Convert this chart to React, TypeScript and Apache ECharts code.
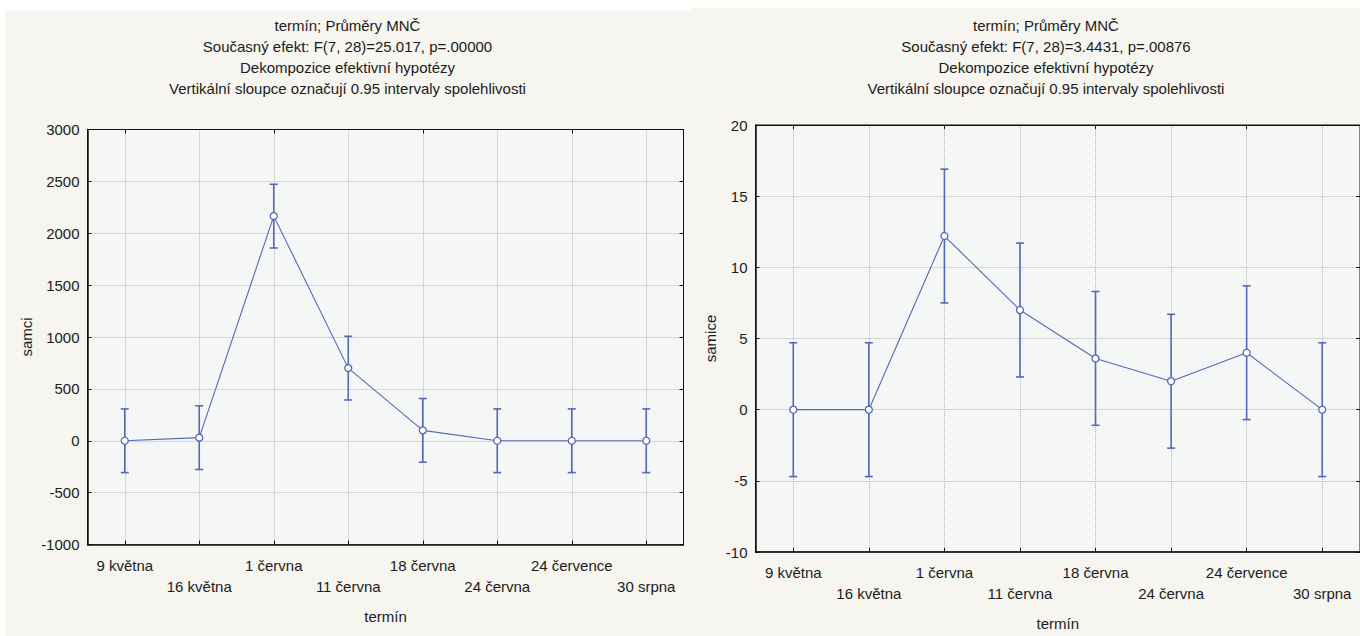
import React, { useEffect, useRef } from "react";
import * as echarts from "echarts";

const categories = [
  "9 května",
  "16 května",
  "1 června",
  "11 června",
  "18 června",
  "24 června",
  "24 července",
  "30 srpna",
];

const samciMeans = [0, 30, 2165, 700, 100, 0, 0, 0];
const samciHalfCI = [307, 307, 307, 307, 307, 307, 307, 307];
const samiceMeans = [0, 0, 12.2, 7.0, 3.6, 2.0, 4.0, 0];
const samiceHalfCI = [4.7, 4.7, 4.7, 4.7, 4.7, 4.7, 4.7, 4.7];

const samciAxis = { min: -1000, max: 3000, interval: 500 };
const samiceAxis = { min: -10, max: 20, interval: 5 };

const leftTitle = [
  "termín; Průměry MNČ",
  "Současný efekt: F(7, 28)=25.017, p=.00000",
  "Dekompozice efektivní hypotézy",
  "Vertikální sloupce označují 0.95 intervaly spolehlivosti",
];
const rightTitle = [
  "termín; Průměry MNČ",
  "Současný efekt: F(7, 28)=3.4431, p=.00876",
  "Dekompozice efektivní hypotézy",
  "Vertikální sloupce označují 0.95 intervaly spolehlivosti",
];

const FONT = "'Liberation Sans', Arial, sans-serif";
const FS = 15;
const TXT = "#1c1c1c";
const BLUE = "#5468b8";
const GRID_C = "#b4b4b4";

export default function App() {
  const ref = useRef<HTMLDivElement>(null);

  useEffect(() => {
    if (!ref.current) return;
    const chart = echarts.init(ref.current, undefined, { renderer: "svg" });

    const grids = [
      { left: 87.5, top: 129.5, width: 596, height: 415 },
      { left: 755.5, top: 125, width: 612, height: 427 },
    ];

    const xAxes: any[] = [];
    const yAxes: any[] = [];
    const yCfg = [samciAxis, samiceAxis];
    const yNames = ["samci", "samice"];
    const yNameGap = [54, 38];
    const xNameGap = [64, 64];

    grids.forEach((_, gi) => {
      xAxes.push({
        type: "category",
        gridIndex: gi,
        data: categories,
        boundaryGap: true,
        position: "bottom",
        name: "termín",
        nameLocation: "middle",
        nameGap: xNameGap[gi],
        nameTextStyle: { fontFamily: FONT, fontSize: FS, color: TXT },
        axisLine: { show: true, onZero: false, lineStyle: { color: "#111", width: 1.5 } },
        axisTick: { show: true, inside: true, length: 4, alignWithLabel: true, lineStyle: { color: "#111" } },
        axisLabel: {
          interval: 0,
          margin: 10,
          fontFamily: FONT,
          fontSize: FS,
          lineHeight: 21,
          color: TXT,
          formatter: (v: string, i: number) => (i % 2 === 1 ? "\n" + v : v),
        },
        splitLine: {
          show: true,
          alignWithLabel: true,
          lineStyle: { color: GRID_C, type: "dotted", width: 1 },
        },
      });
      xAxes.push({
        type: "category",
        gridIndex: gi,
        data: categories,
        boundaryGap: true,
        position: "top",
        axisLine: { show: true, onZero: false, lineStyle: { color: "#111", width: 1 } },
        axisTick: { show: true, inside: true, length: 4, alignWithLabel: true, lineStyle: { color: "#111" } },
        axisLabel: { show: false },
        splitLine: { show: false },
      });
      yAxes.push({
        type: "value",
        gridIndex: gi,
        position: "left",
        min: yCfg[gi].min,
        max: yCfg[gi].max,
        interval: yCfg[gi].interval,
        name: yNames[gi],
        nameLocation: "middle",
        nameGap: yNameGap[gi],
        nameRotate: 90,
        nameTextStyle: { fontFamily: FONT, fontSize: FS, color: TXT },
        axisLine: { show: true, onZero: false, lineStyle: { color: "#111", width: 1.5 } },
        axisTick: { show: true, inside: true, length: 4, lineStyle: { color: "#111" } },
        axisLabel: {
          margin: 8,
          fontFamily: FONT,
          fontSize: FS,
          color: TXT,
          formatter: (v: number) => String(v),
        },
        splitLine: { show: true, lineStyle: { color: GRID_C, type: "dotted", width: 1 } },
      });
      yAxes.push({
        type: "value",
        gridIndex: gi,
        position: "right",
        min: yCfg[gi].min,
        max: yCfg[gi].max,
        interval: yCfg[gi].interval,
        axisLine: { show: true, onZero: false, lineStyle: { color: "#111", width: 1 } },
        axisTick: { show: true, inside: true, length: 4, lineStyle: { color: "#111" } },
        axisLabel: { show: false },
        splitLine: { show: false },
      });
    });

    const errRender = (params: any, api: any) => {
      const x = api.value(0);
      const lo = api.value(1);
      const hi = api.value(2);
      const top = api.coord([x, hi]);
      const bot = api.coord([x, lo]);
      const w = 4;
      const st = { stroke: BLUE, lineWidth: 1.6 };
      return {
        type: "group",
        children: [
          { type: "line", shape: { x1: top[0], y1: top[1], x2: bot[0], y2: bot[1] }, style: st },
          { type: "line", shape: { x1: top[0] - w, y1: top[1], x2: top[0] + w, y2: top[1] }, style: st },
          { type: "line", shape: { x1: bot[0] - w, y1: bot[1], x2: bot[0] + w, y2: bot[1] }, style: st },
        ],
      };
    };

    const means = [samciMeans, samiceMeans];
    const halves = [samciHalfCI, samiceHalfCI];
    const series: any[] = [];
    [0, 1].forEach((gi) => {
      series.push({
        type: "custom",
        xAxisIndex: gi * 2,
        yAxisIndex: gi * 2,
        renderItem: errRender,
        encode: { x: 0, y: [1, 2] },
        data: means[gi].map((m, i) => [i, m - halves[gi][i], m + halves[gi][i]]),
        z: 3,
        silent: true,
      });
      series.push({
        type: "line",
        xAxisIndex: gi * 2,
        yAxisIndex: gi * 2,
        data: means[gi],
        symbol: "circle",
        symbolSize: 7,
        showAllSymbol: true,
        lineStyle: { color: BLUE, width: 1.1 },
        itemStyle: { color: "#ffffff", borderColor: BLUE, borderWidth: 1.3 },
        z: 5,
        silent: true,
      });
    });

    const titleTexts: any[] = [];
    const titleYs = [25, 46.5, 67.5, 88.5];
    const mk = (t: string, x: number, y: number) => ({
      type: "text",
      x,
      y,
      z: 100,
      style: { text: t, fill: TXT, font: `${FS}px ${FONT}`, textAlign: "center", textVerticalAlign: "middle" },
    });
    leftTitle.forEach((t, i) => titleTexts.push(mk(t, 347.5, titleYs[i])));
    rightTitle.forEach((t, i) => titleTexts.push(mk(t, 1046, titleYs[i])));

    chart.setOption({
      animation: false,
      backgroundColor: "#ffffff",
      textStyle: { fontFamily: FONT },
      grid: grids.map((g) => ({
        ...g,
        show: true,
        backgroundColor: "#f5f7f7",
        borderColor: "#111",
        borderWidth: 1,
        containLabel: false,
      })),
      xAxis: xAxes,
      yAxis: yAxes,
      series,
      graphic: [
        { type: "rect", z: -100, shape: { x: 5, y: 11, width: 687, height: 625 }, style: { fill: "#f6f5ef" } },
        { type: "rect", z: -100, shape: { x: 691, y: 8, width: 669, height: 628 }, style: { fill: "#f6f5ef" } },
        ...titleTexts,
      ],
    });

    return () => chart.dispose();
  }, []);

  return (
    <div
      ref={ref}
      style={{ position: "absolute", left: 0, top: 0, width: 1360, height: 636 }}
    />
  );
}
